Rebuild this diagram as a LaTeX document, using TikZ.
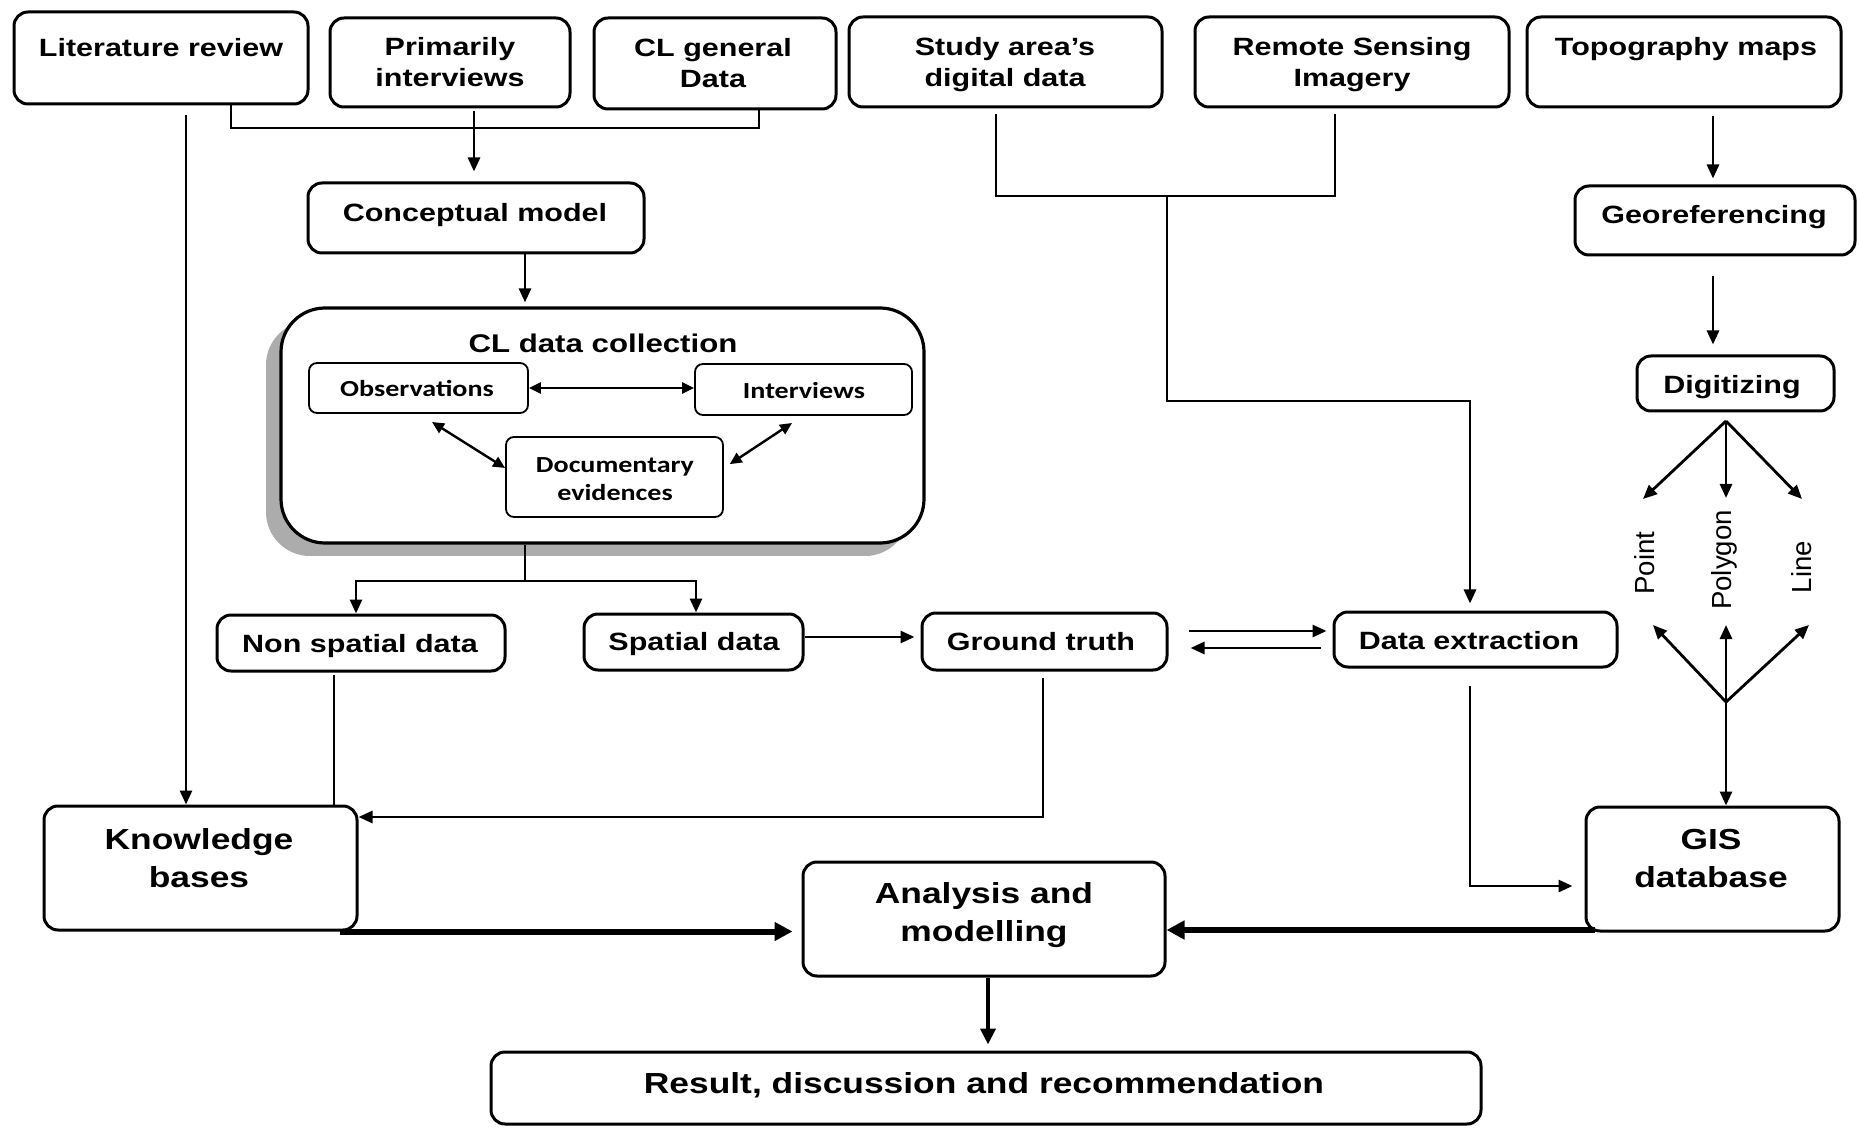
\documentclass[tikz,border=0pt]{standalone}
\usepackage{fontspec}
\newfontfamily\arl[FakeStretch=1.22]{Liberation Sans}
\newfontfamily\arlreg{Liberation Sans}
\newfontfamily\calfont[FakeStretch=1.22]{Carlito}
\usetikzlibrary{arrows.meta}
% box from corner (x1,y1) to corner (x2,y2), in pixel units
\newcommand\bx[6][box]{\node[#1, minimum width={(#5-#3)*0.5pt}, minimum height={(#6-#4)*0.5pt}] (#2) at ({(#3+#5)/2},{(#4+#6)/2}) {};}
\begin{document}
\begin{tikzpicture}[x=0.5pt,y=-0.5pt,
  box/.style={draw, line width=1.5pt, rounded corners=7pt, fill=white, inner sep=0pt},
  bigbox/.style={draw, line width=1.6pt, rounded corners=22pt, fill=white, inner sep=0pt},
  inbox/.style={draw, line width=0.9pt, rounded corners=4pt, fill=white, inner sep=0pt},
  t/.style={font=\arl\bfseries\fontsize{12.5}{15.5}\selectfont, align=center, inner sep=0pt},
  tb/.style={font=\arl\bfseries\fontsize{14.5}{19}\selectfont, align=center, inner sep=0pt},
  ti/.style={font=\calfont\bfseries\fontsize{11.5}{14}\selectfont, align=center, inner sep=0pt},
  tr/.style={font=\arlreg\fontsize{13.8}{15}\selectfont, rotate=90, inner sep=0pt},
  ln/.style={line width=1.4pt},
  arr/.style={ln, -{Triangle[length=7pt,width=6pt]}},
  dbl/.style={line width=1.2pt, {Triangle[length=6pt,width=5.5pt]}-{Triangle[length=6pt,width=5.5pt]}},
  fat/.style={line width=3pt, -{Triangle[length=9pt,width=9pt]}},
  fatv/.style={line width=2.4pt, -{Triangle[length=8pt,width=7.5pt]}}
]
\useasboundingbox (0,0) rectangle (1859,1128);

% ---- boxes ----
\bx{lit}{14}{12}{308}{104}
\bx{prim}{330}{18}{570}{107}
\bx{cld}{594}{18}{836}{109}
\bx{study}{849}{17}{1162}{107}
\bx{remote}{1195}{17}{1509}{107}
\bx{topo}{1527}{17}{1841}{107}
\bx{concept}{308}{183}{644}{253}
\bx{geo}{1575}{186}{1855}{255}
\fill[gray!65, rounded corners=22pt] (266,321) rectangle (909,556);
\bx[bigbox]{clbox}{281}{308}{924}{543}
\bx[inbox]{obs}{309}{363}{528}{413}
\bx[inbox]{int}{695}{364}{912}{415}
\bx[inbox]{doc}{506}{437}{723}{517}
\bx{dig}{1637}{356}{1834}{411}
\bx{ns}{217}{615}{505}{671}
\bx{sp}{584}{614}{803}{670}
\bx{gt}{922}{613}{1167}{670}
\bx{de}{1334}{612}{1617}{667}
\bx{kb}{44}{806}{357}{930}
\bx{an}{803}{862}{1165}{976}
\bx{gis}{1586}{807}{1839}{931}
\bx{res}{491}{1052}{1481}{1124}

% ---- texts ----
\node[t] (tlit) at (161,48) {Literature review};
\node[t] (tprim) at (450,62) {Primarily\\interviews};
\node[t] (tcld) at (713,63) {CL general\\Data};
\node[t] (tstudy) at (1005,65) {Study area’s\\digital data};
\node[t] (tremote) at (1352,65) {Remote Sensing\\Imagery};
\node[t] (ttopo) at (1686,49) {Topography maps};
\node[t] (tconcept) at (475,215) {Conceptual model};
\node[t] (tgeo) at (1714,217) {Georeferencing};
\node[t, font=\arl\bfseries\fontsize{12.8}{15}\selectfont] (tcl) at (603,343) {CL data collection};
\node[ti] (tobs) at (417,388) {Observations};
\node[ti] (tint) at (804,391) {Interviews};
\node[ti] (tdoc) at (615,479) {Documentary\\evidences};
\node[t] (tdig) at (1732,387) {Digitizing};
\node[t] (tns) at (360,646) {Non spatial data};
\node[t] (tsp) at (694,644) {Spatial data};
\node[t] (tgt) at (1041,642) {Ground truth};
\node[t] (tde) at (1469,641) {Data extraction};
\node[tb] (tkb) at (199,858) {Knowledge\\bases};
\node[tb] (tan) at (984,915) {Analysis and\\modelling};
\node[tb] (tgis) at (1711,859) {GIS\\database};
\node[tb] (tres) at (984,1085) {Result, discussion and recommendation};
\node[tr] (lpoint) at (1645,563) {Point};
\node[tr] (lpoly) at (1724,560) {Polygon};
\node[tr] (lline) at (1802,567) {Line};

% ---- connectors ----
% sources to conceptual model
\coordinate (b1) at (231,128);
\coordinate (b2) at (759,128);
\draw[ln] (lit.south -| b1) -- (b1) -- (b2) -- (cld.south -| b2);
\coordinate (p1) at (474,0);
\draw[arr, shorten <=1.5pt, shorten >=5pt] (prim.south -| p1) -- (concept.north -| p1);
% literature review straight down to knowledge bases
\coordinate (l1) at (186,115);
\draw[arr] (l1) -- (kb.north -| l1);
% conceptual model to data collection
\coordinate (c1) at (525,0);
\draw[arr, shorten >=2pt] (concept.south -| c1) -- (clbox.north -| c1);
% inside data collection
\draw[dbl] (obs.east) -- (obs.east -| int.west);
\coordinate (o1) at (432,422);
\draw[dbl] (o1) -- ([yshift=4.5pt]doc.west);
\coordinate (i1) at (792,423);
\draw[dbl, shorten >=3.5pt] (i1) -- ([yshift=4.5pt]doc.east);
% split into spatial / non spatial
\coordinate (s0) at (525,581);
\coordinate (sL) at (356,581);
\coordinate (sR) at (696,581);
\draw[ln] (clbox.south -| s0) -- (s0);
\draw[arr] (s0) -| (ns.north -| sL);
\draw[arr] (s0) -| (sp.north -| sR);
% spatial data to ground truth
\draw[arr, shorten >=3pt] ([yshift=2.5pt]sp.east) -- ([yshift=2.5pt]sp.east -| gt.west);
% ground truth <-> data extraction
\draw[arr, shorten <=10pt, shorten >=3pt] ([yshift=5.25pt]gt.east) -- ([yshift=5.25pt]gt.east -| de.west);
\draw[arr, shorten <=6pt, shorten >=11pt] ([yshift=-4.25pt]de.west) -- ([yshift=-4.25pt]de.west -| gt.east);
% digital data and imagery to data extraction
\coordinate (r1) at (996,196);
\coordinate (r2) at (1335,196);
\draw[ln, shorten <=3pt, shorten >=3pt] (study.south -| r1) -- (r1) -- (r2) -- (remote.south -| r2);
\coordinate (r3) at (1167,196);
\coordinate (r4) at (1167,401);
\coordinate (r5) at (1470,401);
\draw[arr, shorten >=3.5pt] (r3) -- (r4) -- (r5) -- (de.north -| r5);
% topography chain
\coordinate (g0) at (1713,0);
\draw[arr, shorten <=4pt, shorten >=3pt] (topo.south -| g0) -- (geo.north -| g0);
\draw[arr, shorten <=10pt, shorten >=5pt] (geo.south -| g0) -- (dig.north -| g0);
% digitizing fan
\coordinate (f0) at (1726,421);
\coordinate (fp) at (1643,499);
\coordinate (fg) at (1726,498);
\coordinate (fl) at (1802,499);
\draw[arr] (f0) -- (fp);
\draw[arr] (f0) -- (fg);
\draw[arr] (f0) -- (fl);
\coordinate (h0) at (1726,702);
\coordinate (hp) at (1653,625);
\coordinate (hg) at (1726,625);
\coordinate (hl) at (1809,625);
\draw[arr] (h0) -- (hp);
\draw[arr] (h0) -- (hg);
\draw[arr] (h0) -- (hl);
\draw[arr] (h0) -- (gis.north -| h0);
% data extraction to GIS database
\coordinate (d1) at (1470,886);
\draw[arr, shorten <=8.5pt, shorten >=6pt] (de.south -| d1) -- (d1) -- (gis.west |- d1);
% non spatial data and ground truth to knowledge bases
\coordinate (n1) at (334,0);
\draw[ln, shorten <=1pt] (ns.south -| n1) -- (kb.north -| n1);
\coordinate (k1) at (1043,817);
\draw[arr, shorten <=3pt] (gt.south -| k1) -- (k1) -- (kb.east |- k1);
% into analysis and modelling
\draw[fat, shorten >=4.5pt] ([xshift=-9.5pt]kb.south east) -- (an.west |- kb.south east);
\coordinate (w1) at (1595,930);
\draw[fat] (w1) -- (an.east |- w1);
\coordinate (a1) at (988,0);
\draw[fatv, shorten >=3pt] (an.south -| a1) -- (res.north -| a1);
\end{tikzpicture}
\end{document}
